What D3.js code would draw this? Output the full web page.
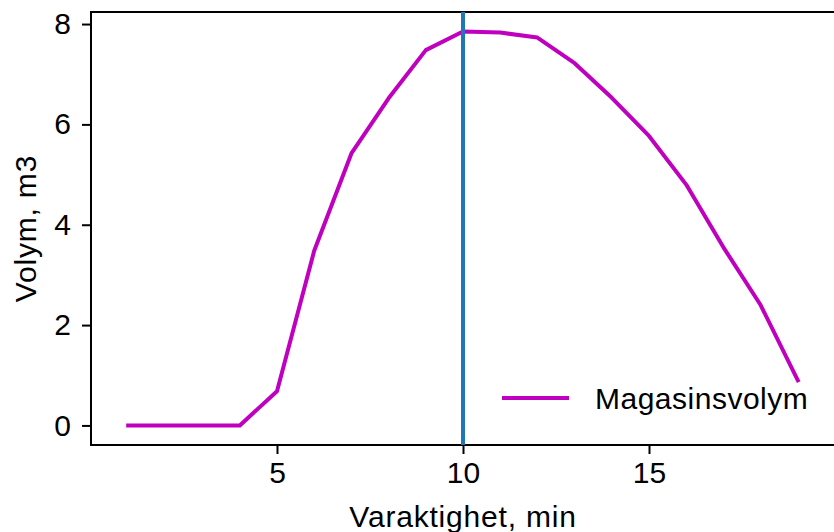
<!DOCTYPE html>
<html>
<head>
<meta charset="utf-8">
<script src="https://cdn.jsdelivr.net/npm/d3@7"></script>
<style>
  body { margin: 0; background: #fff; }
  svg { display: block; font-family: "Liberation Sans", Arial, sans-serif; }
</style>
</head>
<body>
<svg id="svgRoot" width="834" height="532"></svg>
<script>
// data
let duration = [1, 2, 3, 4, 5, 6, 7, 8, 9, 10, 11, 12, 13, 14, 15, 16, 17, 18, 19]
let volume = [0, 0, 0, 0, 0.68, 3.48, 5.42, 6.52, 7.48, 7.85, 7.83, 7.73, 7.22, 6.53, 5.77, 4.8, 3.55, 2.4, 0.9]
let xTicks = [5, 10, 15]
let yTicks = [0, 2, 4, 6, 8]
let markerX = 10
let seriesName = "Magasinsvolym"
let xLabel = "Varaktighet, min"
let yLabel = "Volym, m3"

function draw_vis() {
  let svg = d3.select("#svgRoot")

  const margin = { top: 12, left: 91, bottom: 445, right: 835 }
  const fontSize = 30

  let scale_x = d3.scaleLinear().domain([0, 20]).range([margin.left, margin.right])
  let scale_y = d3.scaleLinear().domain([-0.39, 8.24]).range([margin.bottom, margin.top])

  // axes
  let g_xAxis = svg.append("g")
    .attr("transform", "translate(0," + margin.bottom + ")")
    .call(d3.axisBottom(scale_x).tickValues(xTicks).tickSize(9).tickPadding(8).tickSizeOuter(0))
  let g_yAxis = svg.append("g")
    .attr("transform", "translate(" + margin.left + ",0)")
    .call(d3.axisLeft(scale_y).tickValues(yTicks).tickSize(9).tickPadding(11).tickSizeOuter(0))

  for (let g of [g_xAxis, g_yAxis]) {
    g.selectAll("text").attr("font-size", fontSize).attr("fill", "#000").attr("font-family", null)
    g.selectAll("line").attr("stroke", "#000").attr("stroke-width", 2)
    g.select(".domain").remove()
  }

  // spines: left, top, bottom (the right one is cut off by the canvas)
  let spines = [
    [margin.left, margin.top, margin.left, margin.bottom],
    [margin.left, margin.top, margin.right, margin.top],
    [margin.left, margin.bottom, margin.right, margin.bottom],
  ]
  svg.append("g").selectAll("line").data(spines).enter().append("line")
    .attr("x1", (d) => d[0]).attr("y1", (d) => d[1])
    .attr("x2", (d) => d[2]).attr("y2", (d) => d[3])
    .attr("stroke", "#000").attr("stroke-width", 2).attr("stroke-linecap", "square")

  // magasinsvolym line
  let line = d3.line()
    .x((d, i) => scale_x(duration[i]))
    .y((d) => scale_y(d))
  svg.append("path")
    .datum(volume)
    .attr("d", line)
    .attr("fill", "none")
    .attr("stroke", "#bf00bf")
    .attr("stroke-width", 4)
    .attr("stroke-linecap", "square")
    .attr("stroke-linejoin", "round")

  // vertical marker
  svg.append("line")
    .attr("x1", scale_x(markerX)).attr("x2", scale_x(markerX))
    .attr("y1", margin.top).attr("y2", margin.bottom)
    .attr("stroke", "#1f77b4").attr("stroke-width", 4)

  // axis labels
  svg.append("text")
    .attr("x", (margin.left + margin.right) / 2).attr("y", 527)
    .attr("text-anchor", "middle").attr("font-size", fontSize)
    .attr("letter-spacing", 0.8)
    .text(xLabel)
  svg.append("text")
    .attr("transform", "translate(36," + (margin.top + margin.bottom) / 2 + ") rotate(-90)")
    .attr("text-anchor", "middle").attr("font-size", fontSize)
    .attr("letter-spacing", 0.8)
    .text(yLabel)

  // legend
  let legend = svg.append("g").attr("transform", "translate(502,398)")
  legend.append("line")
    .attr("x1", 0).attr("x2", 67).attr("y1", 0).attr("y2", 0)
    .attr("stroke", "#bf00bf").attr("stroke-width", 4)
  legend.append("text")
    .attr("x", 93).attr("y", 11)
    .attr("font-size", fontSize)
    .attr("letter-spacing", 0.5)
    .text(seriesName)
}

draw_vis()
</script>
</body>
</html>
